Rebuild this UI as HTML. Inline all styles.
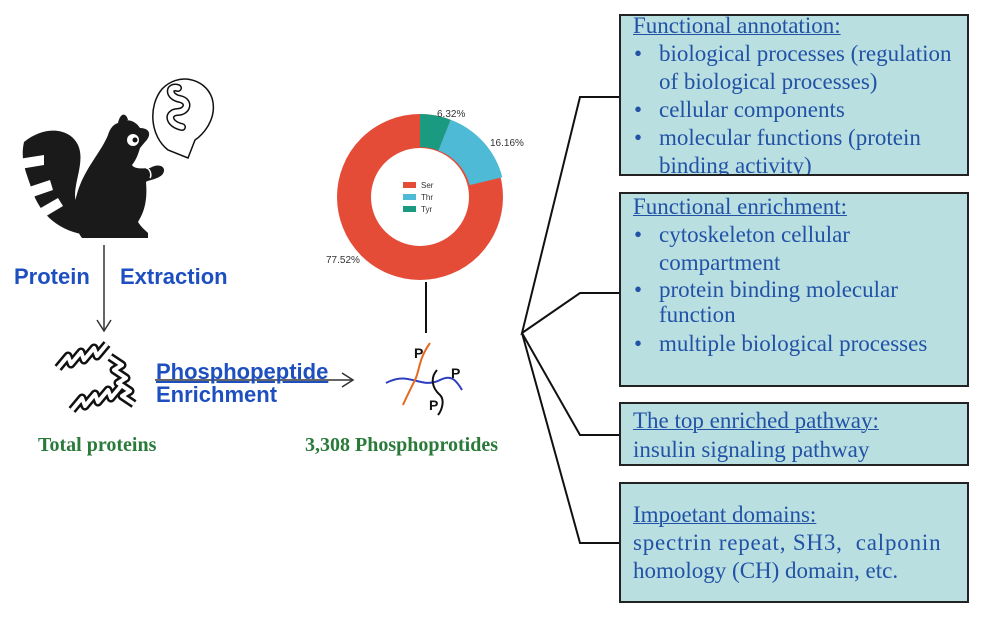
<!DOCTYPE html>
<html><head><meta charset="utf-8"><style>
body{margin:0;width:990px;height:625px;background:#fff;position:relative;overflow:hidden;font-family:"Liberation Serif","Times New Roman",serif}
.t{position:absolute;white-space:nowrap;font-family:"Liberation Serif","Times New Roman",serif;font-size:23px;color:#2252a6;line-height:26px}
.u{text-decoration:underline;text-decoration-thickness:1px}
.box{position:absolute;left:619px;width:350px;background:#b9dfe1;border:2px solid #222;box-sizing:border-box}
.s{position:absolute;font-family:"Liberation Sans",sans-serif;font-weight:bold;color:#1e4fc0;font-size:22px;white-space:nowrap}
.g{position:absolute;font-family:"Liberation Serif",serif;font-weight:bold;color:#2a7a3a;font-size:20px;white-space:nowrap}
.p{position:absolute;font-family:"Liberation Sans",sans-serif;font-size:10px;color:#333}
</style></head><body>
<div class="box" style="top:14px;height:162px"></div>
<div class="box" style="top:192px;height:195px"></div>
<div class="box" style="top:402px;height:64px"></div>
<div class="box" style="top:482px;height:121px"></div>

<div class="t u" style="left:633px;top:13px">Functional annotation:</div>
<div class="t" style="left:634px;top:41px">•</div><div class="t" style="left:659px;top:41px">biological processes (regulation</div>
<div class="t" style="left:659px;top:69px">of biological processes)</div>
<div class="t" style="left:634px;top:97px">•</div><div class="t" style="left:659px;top:97px">cellular components</div>
<div class="t" style="left:634px;top:125px">•</div><div class="t" style="left:659px;top:125px">molecular functions (protein</div>
<div class="t" style="left:659px;top:153px;height:21px;overflow:hidden">binding activity)</div>

<div class="t u" style="left:633px;top:194px">Functional enrichment:</div>
<div class="t" style="left:634px;top:222px">•</div><div class="t" style="left:659px;top:222px">cytoskeleton cellular</div>
<div class="t" style="left:659px;top:250px">compartment</div>
<div class="t" style="left:634px;top:277px">•</div><div class="t" style="left:659px;top:277px">protein binding molecular</div>
<div class="t" style="left:659px;top:302px">function</div>
<div class="t" style="left:634px;top:331px">•</div><div class="t" style="left:659px;top:331px">multiple biological processes</div>

<div class="t u" style="left:633px;top:408px">The top enriched pathway:</div>
<div class="t" style="left:633px;top:437px">insulin signaling pathway</div>

<div class="t u" style="left:633px;top:502px">Impoetant domains:</div>
<div class="t" style="left:633px;top:530px;letter-spacing:0.8px">spectrin repeat, SH3,&nbsp; calponin</div>
<div class="t" style="left:633px;top:558px">homology (CH) domain, etc.</div>

<svg width="990" height="625" style="position:absolute;left:0;top:0">
<g fill="none" stroke="#111" stroke-width="2">
<polyline points="619,97 580,97 522,333 580,293 619,293"/>
<polyline points="522,333 580,435 619,435"/>
<polyline points="522,333 580,543 619,543"/>
<line x1="426" y1="282" x2="426" y2="333"/>
</g>
<g transform="translate(420,197)">
<circle r="66" fill="none" stroke="#e44c38" stroke-width="34"/>
<path d="M0,-83 A83,83 0 0 1 30.6,-77.2 L18.4,-46.5 A50,50 0 0 0 0,-50Z" fill="#1a9a80"/>
<path d="M30.6,-77.2 A83,83 0 0 1 82.3,-19.8 L49.6,-11.9 A50,50 0 0 0 18.4,-46.5Z" fill="#4ebad6"/>
<rect x="-17" y="-15" width="13" height="6" fill="#e44c38"/>
<rect x="-17" y="-3" width="13" height="6" fill="#4ebad6"/>
<rect x="-17" y="9" width="13" height="6" fill="#1a9a80"/>
<g font-family="Liberation Sans,sans-serif" font-size="8" fill="#333">
<text x="1" y="-9">Ser</text><text x="1" y="3">Thr</text><text x="1" y="15">Tyr</text></g>
</g>
<!-- raccoon -->
<path d="M24,142 C45,125 70,128 78,145 C85,160 75,180 75,195 C76,210 80,215 90,218 L88,235 C60,232 40,215 32,190 C26,172 20,160 24,142Z" fill="#1a1a1a"/>
<g fill="#fff">
<path d="M12,160 L44,155 L44,165 L14,170Z"/>
<path d="M20,190 L50,180 L53,190 L24,200Z"/>
<path d="M32,213 L58,198 L63,206 L38,221Z"/>
</g>
<path d="M118,123 C126,118 135,120 140,128 C150,128 152,135 145,142 L140,148 C138,155 136,160 132,165 C135,170 145,168 150,168 C160,162 168,168 162,175 C156,180 148,180 146,182 C148,205 142,215 138,222 C142,228 145,230 148,233 L148,238 L82,238 C72,225 72,205 80,185 C88,165 102,150 108,135 C110,128 114,124 118,123Z" fill="#1a1a1a"/>
<path d="M118,123 C120,113 126,112 128,120Z" fill="#1a1a1a"/>
<circle cx="133" cy="140" r="6" fill="#fff"/><circle cx="135" cy="140" r="2.5" fill="#111"/>
<path d="M146,168 C150,168 152,175 150,178" fill="none" stroke="#fff" stroke-width="1.5"/>
<path d="M168,150 C150,136 148,106 162,89 C178,72 205,78 212,98 C218,118 203,135 195,140 L188,158 Z" fill="#fff" stroke="#111" stroke-width="1.5"/>
<path d="M178,88 C168,85 168,97 180,99 C190,101 188,112 177,112 C167,113 168,124 182,127" fill="none" stroke="#111" stroke-width="8" stroke-linecap="round"/>
<path d="M178,88 C168,85 168,97 180,99 C190,101 188,112 177,112 C167,113 168,124 182,127" fill="none" stroke="#fff" stroke-width="5" stroke-linecap="round"/>
<!-- arrows -->
<g stroke="#333" stroke-width="1.5" fill="none">
<line x1="104" y1="245" x2="104" y2="330"/><polyline points="97,320 104,331 111,320"/>
<line x1="155" y1="380" x2="352" y2="380"/><polyline points="342,373 353,380 342,387"/>
</g>
<!-- helices -->
<g fill="none" stroke="#111" stroke-width="9" stroke-linejoin="round">
<path d="M58,368 l10,-12 l3,8 l10,-12 l3,8 l10,-12 l3,8 l10,-12"/>
<path d="M72,410 l10,-12 l3,8 l10,-12 l3,8 l10,-12 l3,8 l10,-12"/>
<path d="M110,357 l12,8 l-8,5 l12,8 l-8,5 l12,8 l-8,5 l12,8"/>
</g>
<g fill="none" stroke="#fff" stroke-width="4" stroke-linejoin="round">
<path d="M58,368 l10,-12 l3,8 l10,-12 l3,8 l10,-12 l3,8 l10,-12"/>
<path d="M72,410 l10,-12 l3,8 l10,-12 l3,8 l10,-12 l3,8 l10,-12"/>
<path d="M110,357 l12,8 l-8,5 l12,8 l-8,5 l12,8 l-8,5 l12,8"/>
</g>
<path d="M386,383 C410,370 420,390 440,380 C450,375 455,378 462,390" fill="none" stroke="#2d3fbf" stroke-width="2"/>
<path d="M430,343 C418,360 420,370 415,380 C410,390 405,400 403,405" fill="none" stroke="#e46a20" stroke-width="2"/>
<path d="M437,370 C430,378 432,388 440,395 C445,400 442,410 438,415" fill="none" stroke="#111" stroke-width="2"/>
<g font-family="Liberation Sans,sans-serif" font-weight="bold" font-size="14" fill="#111">
<text x="414" y="358">P</text><text x="451" y="378">P</text><text x="429" y="410">P</text></g>
</svg>
<div class="p" style="left:437px;top:109px">6.32%</div>
<div class="p" style="left:490px;top:138px">16.16%</div>
<div class="p" style="left:326px;top:255px">77.52%</div>
<div class="s" style="left:14px;top:264px">Protein</div>
<div class="s" style="left:120px;top:264px">Extraction</div>
<div class="s" style="left:156px;top:359px;text-decoration:underline">Phosphopeptide</div>
<div class="s" style="left:156px;top:382px">Enrichment</div>
<div class="g" style="left:38px;top:434px">Total proteins</div>
<div class="g" style="left:305px;top:434px">3,308 Phosphoprotides</div>
</body></html>
